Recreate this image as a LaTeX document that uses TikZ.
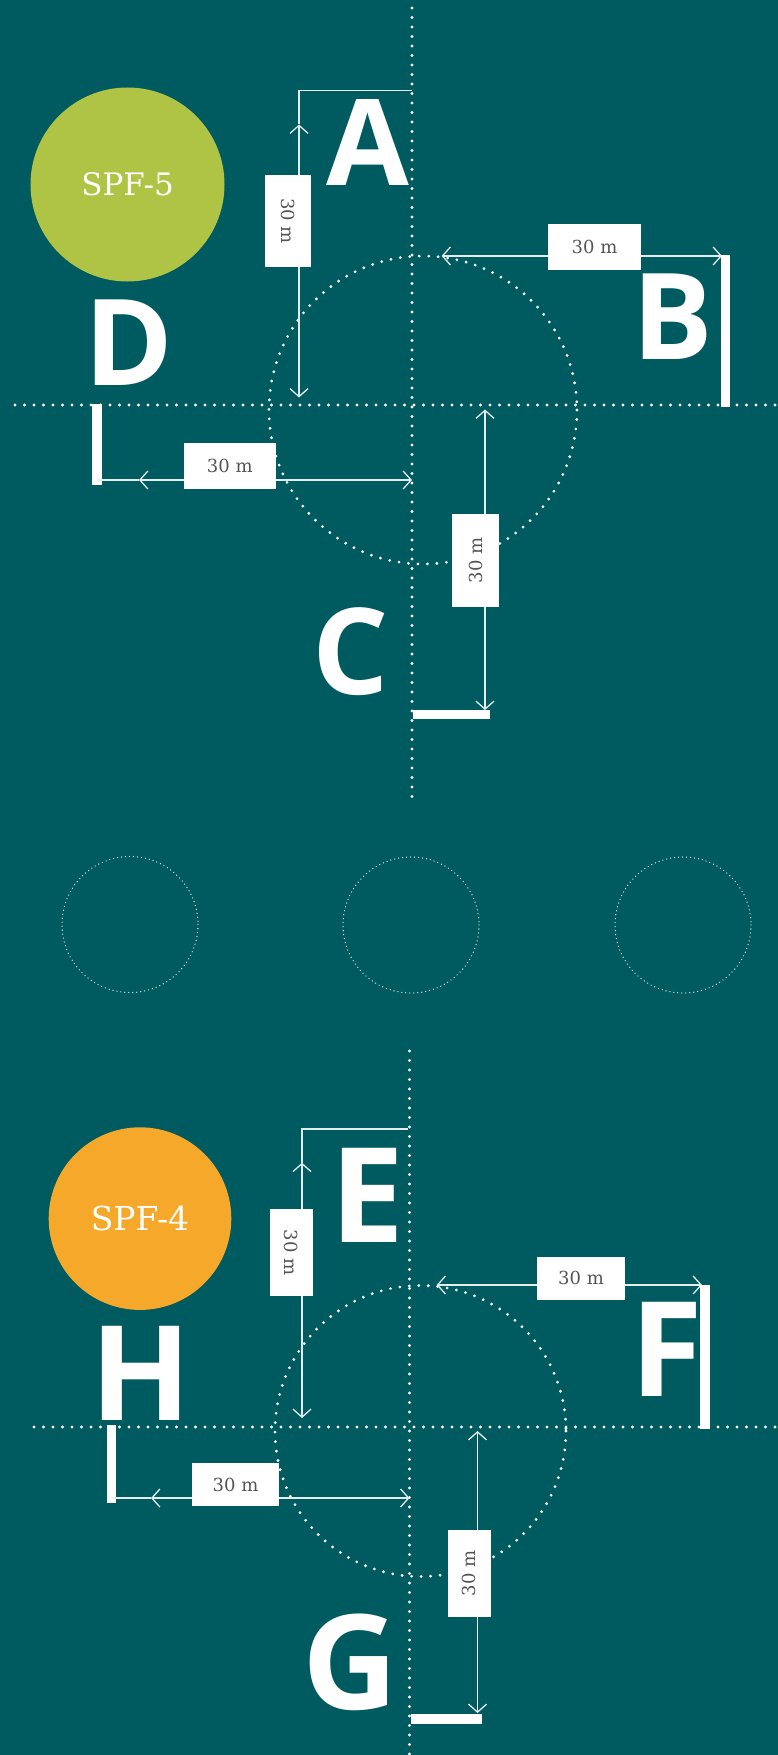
\documentclass[tikz,border=0pt]{standalone}
\usepackage{fontspec}
\usetikzlibrary{arrows.meta}
\newfontfamily\letterfont{Open Sans}
\newfontfamily\slabfont{DejaVu Serif}
\definecolor{bg}{RGB}{0,91,97}
\definecolor{olive}{RGB}{175,196,68}
\definecolor{orangec}{RGB}{245,168,42}
\definecolor{dimc}{RGB}{228,236,236}
\definecolor{labelgray}{RGB}{85,85,85}
\begin{document}
\begin{tikzpicture}[x=1pt,y=-1pt,
  guide/.style={draw=white, line width=3.1pt, line cap=round, dash pattern=on 0pt off 9.5pt},
  faint/.style={draw=white, draw opacity=0.9, line width=1.3pt, line cap=round, dash pattern=on 0pt off 4pt},
  dim/.style={draw=dimc, line width=1.3pt},
  dimarrow/.style={dim, {Straight Barb[length=8pt,width=18pt]}-{Straight Barb[length=8pt,width=18pt]}},
  thickbar/.style={draw=white, line width=9.5pt},
  lbl/.style={fill=white, inner sep=0pt, text=labelgray, font=\slabfont\fontsize{18}{18}\selectfont},
  bigA/.style={text=white, inner sep=0pt, font=\letterfont\bfseries\fontsize{120}{120}\selectfont},
  bigB/.style={text=white, inner sep=0pt, font=\letterfont\bfseries\fontsize{132}{132}\selectfont},
  spf/.style={circle, inner sep=0pt, text=white}
]
\fill[bg] (0,0) rectangle (778,1755);
\useasboundingbox (0,0) rectangle (778,1755);

% ---------------- top group (SPF-5) ----------------
\draw[guide] (412,8) -- (412,800);
\draw[guide] (15,405) -- (778,405);
\draw[guide] (423,410) circle (154);

\node[spf, fill=olive, minimum size=194pt, font=\slabfont\fontsize{31}{31}\selectfont] (spf5) at (127.5,184.5) {SPF-5};

% A
\coordinate (aTop) at (412,90.5);
\coordinate (aCorner) at (299,90.5);
\coordinate (aUp) at (299,124.5);
\coordinate (aDown) at (299,397.5);
\draw[dim] (aTop) -- (aCorner) -- (aUp);
\draw[dimarrow] (aUp) -- (aDown);
\node[lbl, rotate=-90, minimum width=92pt, minimum height=46.5pt] (lblA) at (287.75,221) {30 m};
\node[bigA] (A) at (368,142.5) {A};

% B
\coordinate (bL) at (441.6,256);
\coordinate (bR) at (722,256);
\coordinate (bBarTop) at (725.5,255);
\coordinate (bBarBot) at (725.5,407);
\draw[dimarrow] (bL) -- (bR);
\draw[thickbar] (bBarTop) -- (bBarBot);
\node[lbl, minimum width=93pt, minimum height=46pt] (lblB) at (594.5,247) {30 m};
\node[bigA] (B) at (672.5,316.5) {B};

% C
\coordinate (cU) at (485,409.5);
\coordinate (cD) at (485,710);
\coordinate (cBarL) at (413,714.5);
\coordinate (cBarR) at (490,714.5);
\draw[dimarrow] (cU) -- (cD);
\draw[thickbar] (cBarL) -- (cBarR);
\node[lbl, rotate=90, minimum width=93pt, minimum height=47pt] (lblC) at (475.5,560.5) {30 m};
\node[bigA] (C) at (350.6,651.5) {C};

% D
\coordinate (dBarTop) at (97,404);
\coordinate (dBarBot) at (97,484.7);
\coordinate (dStart) at (97,480);
\coordinate (dL) at (139,480);
\coordinate (dR) at (412,480);
\draw[thickbar] (dBarTop) -- (dBarBot);
\draw[dim] (dStart) -- (dL);
\draw[dimarrow] (dL) -- (dR);
\node[lbl, minimum width=92.4pt, minimum height=46.5pt] (lblD) at (229.8,466.2) {30 m};
\node[bigA] (D) at (129,342.5) {D};

% ---------------- middle faint circles ----------------
\draw[faint] (130,924.5) circle (68);
\draw[faint] (411,925) circle (68);
\draw[faint] (683,925) circle (68);

% ---------------- bottom group (SPF-4) ----------------
\draw[guide] (409.5,1051) -- (409.5,1755);
\draw[guide] (34,1427) -- (778,1427);
\draw[guide] (420.5,1431) circle (145.5);

\node[spf, fill=orangec, minimum size=182.6pt, font=\slabfont\fontsize{33}{33}\selectfont] (spf4) at (140,1218.6) {SPF-4};

% E
\coordinate (eTop) at (408,1129);
\coordinate (eCorner) at (302,1129);
\coordinate (eUp) at (302,1162.7);
\coordinate (eDown) at (302,1418);
\draw[dim] (eTop) -- (eCorner) -- (eUp);
\draw[dimarrow] (eUp) -- (eDown);
\node[lbl, rotate=-90, minimum width=87pt, minimum height=43.5pt] (lblE) at (291.25,1252.5) {30 m};
\node[bigB] (E) at (367,1195) {E};

% F
\coordinate (fL) at (436.6,1285);
\coordinate (fR) at (702,1285);
\coordinate (fBarTop) at (705,1284.5);
\coordinate (fBarBot) at (705,1428.5);
\draw[dimarrow] (fL) -- (fR);
\draw[thickbar] (fBarTop) -- (fBarBot);
\node[lbl, minimum width=88pt, minimum height=43pt] (lblF) at (581,1278) {30 m};
\node[bigB] (F) at (667,1349) {F};

% G
\coordinate (gU) at (477.5,1431);
\coordinate (gD) at (477.5,1713);
\coordinate (gBarL) at (411,1719);
\coordinate (gBarR) at (482,1719);
\draw[dimarrow] (gU) -- (gD);
\draw[thickbar] (gBarL) -- (gBarR);
\node[lbl, rotate=90, minimum width=87pt, minimum height=43.5pt] (lblG) at (469.3,1573.5) {30 m};
\node[bigB] (G) at (350.5,1662) {G};

% H
\coordinate (hBarTop) at (111.6,1425);
\coordinate (hBarBot) at (111.6,1502.7);
\coordinate (hStart) at (111.6,1498);
\coordinate (hL) at (151,1498);
\coordinate (hR) at (409.5,1498);
\draw[thickbar] (hBarTop) -- (hBarBot);
\draw[dim] (hStart) -- (hL);
\draw[dimarrow] (hL) -- (hR);
\node[lbl, minimum width=87pt, minimum height=43pt] (lblH) at (235.5,1484.5) {30 m};
\node[bigB] (H) at (141,1373) {H};
\end{tikzpicture}
\end{document}
